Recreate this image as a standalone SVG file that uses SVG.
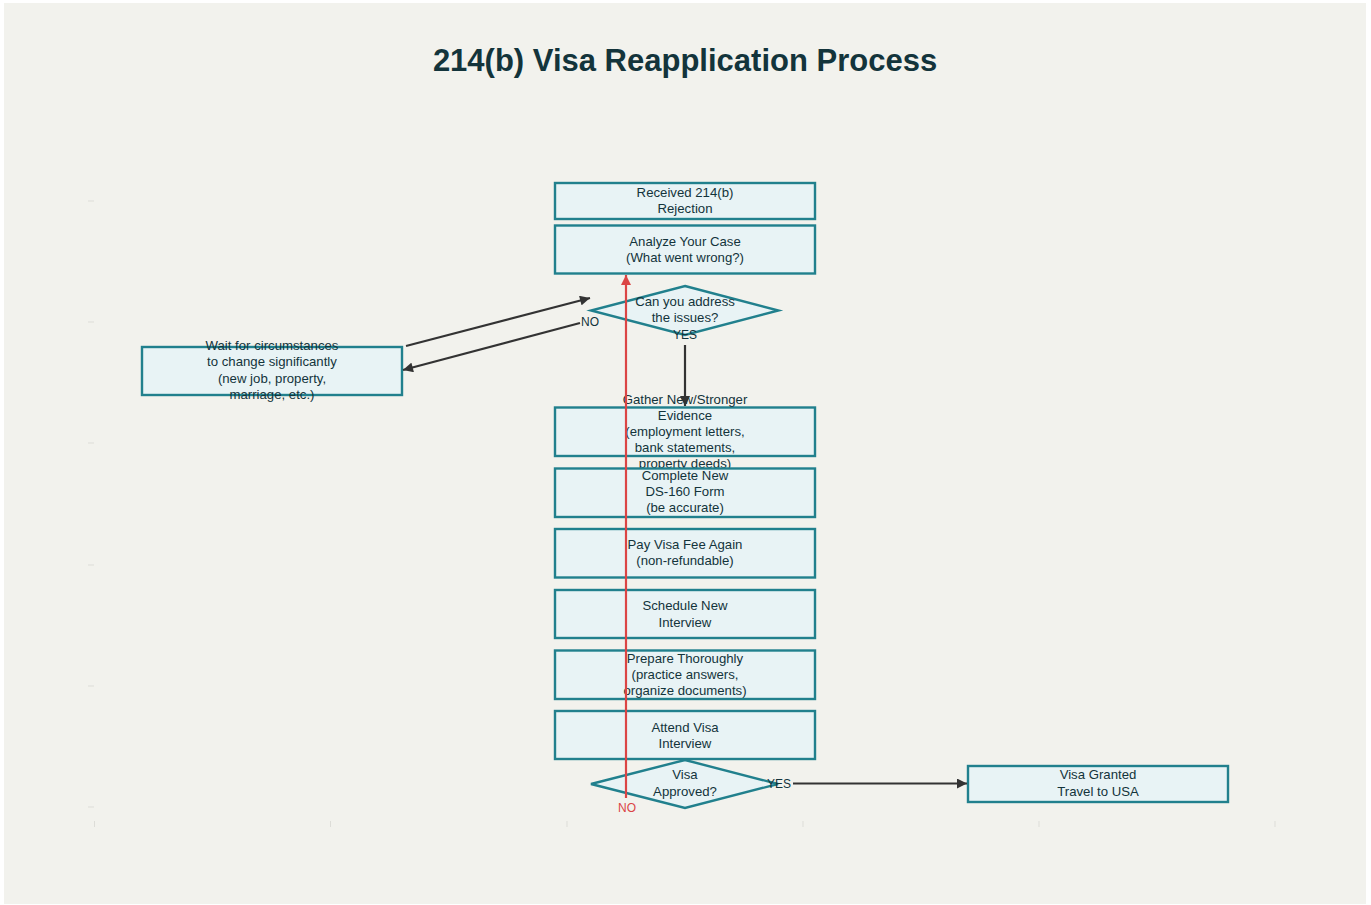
<svg xmlns="http://www.w3.org/2000/svg" width="1371" height="905" viewBox="0 0 1371 905">
<defs>
<marker id="ah" viewBox="0 0 10 10" refX="10" refY="5" markerWidth="12" markerHeight="10" markerUnits="userSpaceOnUse" orient="auto"><path d="M0,0 L10,5 L0,10 z" fill="#333333"/></marker>
<marker id="ahr" viewBox="0 0 10 10" refX="10" refY="5" markerWidth="12" markerHeight="10" markerUnits="userSpaceOnUse" orient="auto"><path d="M0,0 L10,5 L0,10 z" fill="#DB4545"/></marker>
<style>
.box{fill:#E8F3F5;stroke:#21808D;stroke-width:2.4}
.t{font-family:"Liberation Sans",Arial,sans-serif;font-size:13.2px;fill:#13343B;text-anchor:middle}
.lbl{font-family:"Liberation Sans",Arial,sans-serif;font-size:12px;fill:#13343B;text-anchor:middle}
.c{stroke:#333333;stroke-width:2.2;fill:none;marker-end:url(#ah)}
.tick{stroke:#DDDDD8;stroke-width:1}
</style>
</defs>
<rect x="0" y="0" width="1371" height="905" fill="#FFFFFF"/>
<rect x="4" y="3" width="1362" height="901" fill="#F2F2ED"/>
<text x="685" y="71" font-family="Liberation Sans, Arial, sans-serif" font-size="31" font-weight="bold" fill="#13343B" text-anchor="middle">214(b) Visa Reapplication Process</text>
<g id="axes">
<line class="tick" x1="88" y1="201" x2="94" y2="201"/>
<line class="tick" x1="88" y1="322" x2="94" y2="322"/>
<line class="tick" x1="88" y1="443" x2="94" y2="443"/>
<line class="tick" x1="88" y1="565" x2="94" y2="565"/>
<line class="tick" x1="88" y1="686" x2="94" y2="686"/>
<line class="tick" x1="88" y1="807" x2="94" y2="807"/>
<line class="tick" x1="94.5" y1="821" x2="94.5" y2="827"/>
<line class="tick" x1="330.5" y1="821" x2="330.5" y2="827"/>
<line class="tick" x1="567" y1="821" x2="567" y2="827"/>
<line class="tick" x1="803" y1="821" x2="803" y2="827"/>
<line class="tick" x1="1039" y1="821" x2="1039" y2="827"/>
<line class="tick" x1="1275" y1="821" x2="1275" y2="827"/>
</g>
<g id="n1"><rect class="box" x="555" y="183" width="260" height="36"/><text class="t" x="685" y="196.5">Received 214(b)</text><text class="t" x="685" y="213">Rejection</text></g>
<g id="n2"><rect class="box" x="555" y="225.5" width="260" height="48"/><text class="t" x="685" y="245.5">Analyze Your Case</text><text class="t" x="685" y="262">(What went wrong?)</text></g>
<g id="n3"><polygon class="box" points="685,286 778.5,310.5 685,335 591,310.5"/><text class="t" x="685" y="305.5">Can you address</text><text class="t" x="685" y="322">the issues?</text></g>
<g id="n4"><rect class="box" x="142" y="347" width="260" height="48"/><text class="t" x="272" y="349.5">Wait for circumstances</text><text class="t" x="272" y="366">to change significantly</text><text class="t" x="272" y="382.5">(new job, property,</text><text class="t" x="272" y="399">marriage, etc.)</text></g>
<g id="n5"><rect class="box" x="555" y="407.5" width="260" height="48.5"/><text class="t" x="685" y="403.5">Gather New/Stronger</text><text class="t" x="685" y="420">Evidence</text><text class="t" x="685" y="436">(employment letters,</text><text class="t" x="685" y="452">bank statements,</text><text class="t" x="685" y="468">property deeds)</text></g>
<g id="n6"><rect class="box" x="555" y="468.5" width="260" height="48.5"/><text class="t" x="685" y="479.5">Complete New</text><text class="t" x="685" y="496">DS-160 Form</text><text class="t" x="685" y="512">(be accurate)</text></g>
<g id="n7"><rect class="box" x="555" y="529" width="260" height="48.5"/><text class="t" x="685" y="548.5">Pay Visa Fee Again</text><text class="t" x="685" y="565">(non-refundable)</text></g>
<g id="n8"><rect class="box" x="555" y="590" width="260" height="48"/><text class="t" x="685" y="610">Schedule New</text><text class="t" x="685" y="626.5">Interview</text></g>
<g id="n9"><rect class="box" x="555" y="650.5" width="260" height="48.5"/><text class="t" x="685" y="662.5">Prepare Thoroughly</text><text class="t" x="685" y="679">(practice answers,</text><text class="t" x="685" y="695">organize documents)</text></g>
<g id="n10"><rect class="box" x="555" y="711" width="260" height="48"/><text class="t" x="685" y="731.5">Attend Visa</text><text class="t" x="685" y="748">Interview</text></g>
<g id="n11"><polygon class="box" points="685,760 778,784 685,808 591,784"/><text class="t" x="685" y="778.5">Visa</text><text class="t" x="685" y="795.5">Approved?</text></g>
<g id="n12"><rect class="box" x="968" y="766" width="260" height="36"/><text class="t" x="1098" y="778.5">Visa Granted</text><text class="t" x="1098" y="795.5">Travel to USA</text></g>
<g id="connectors">
<line class="c" x1="406" y1="346" x2="590" y2="298"/>
<line class="c" x1="580" y1="323" x2="403" y2="370"/>
<text class="lbl" x="590" y="326">NO</text>
<line class="c" x1="685" y1="345" x2="685" y2="406"/>
<text class="lbl" x="685" y="339">YES</text>
<line x1="626" y1="798" x2="626" y2="275" stroke="#DB4545" stroke-width="2.2" marker-end="url(#ahr)"/>
<text class="lbl" x="627" y="812" style="fill:#DB4545">NO</text>
<line class="c" x1="793" y1="783.5" x2="967" y2="783.5"/>
<text class="lbl" x="779" y="787.5">YES</text>
</g>
</svg>
